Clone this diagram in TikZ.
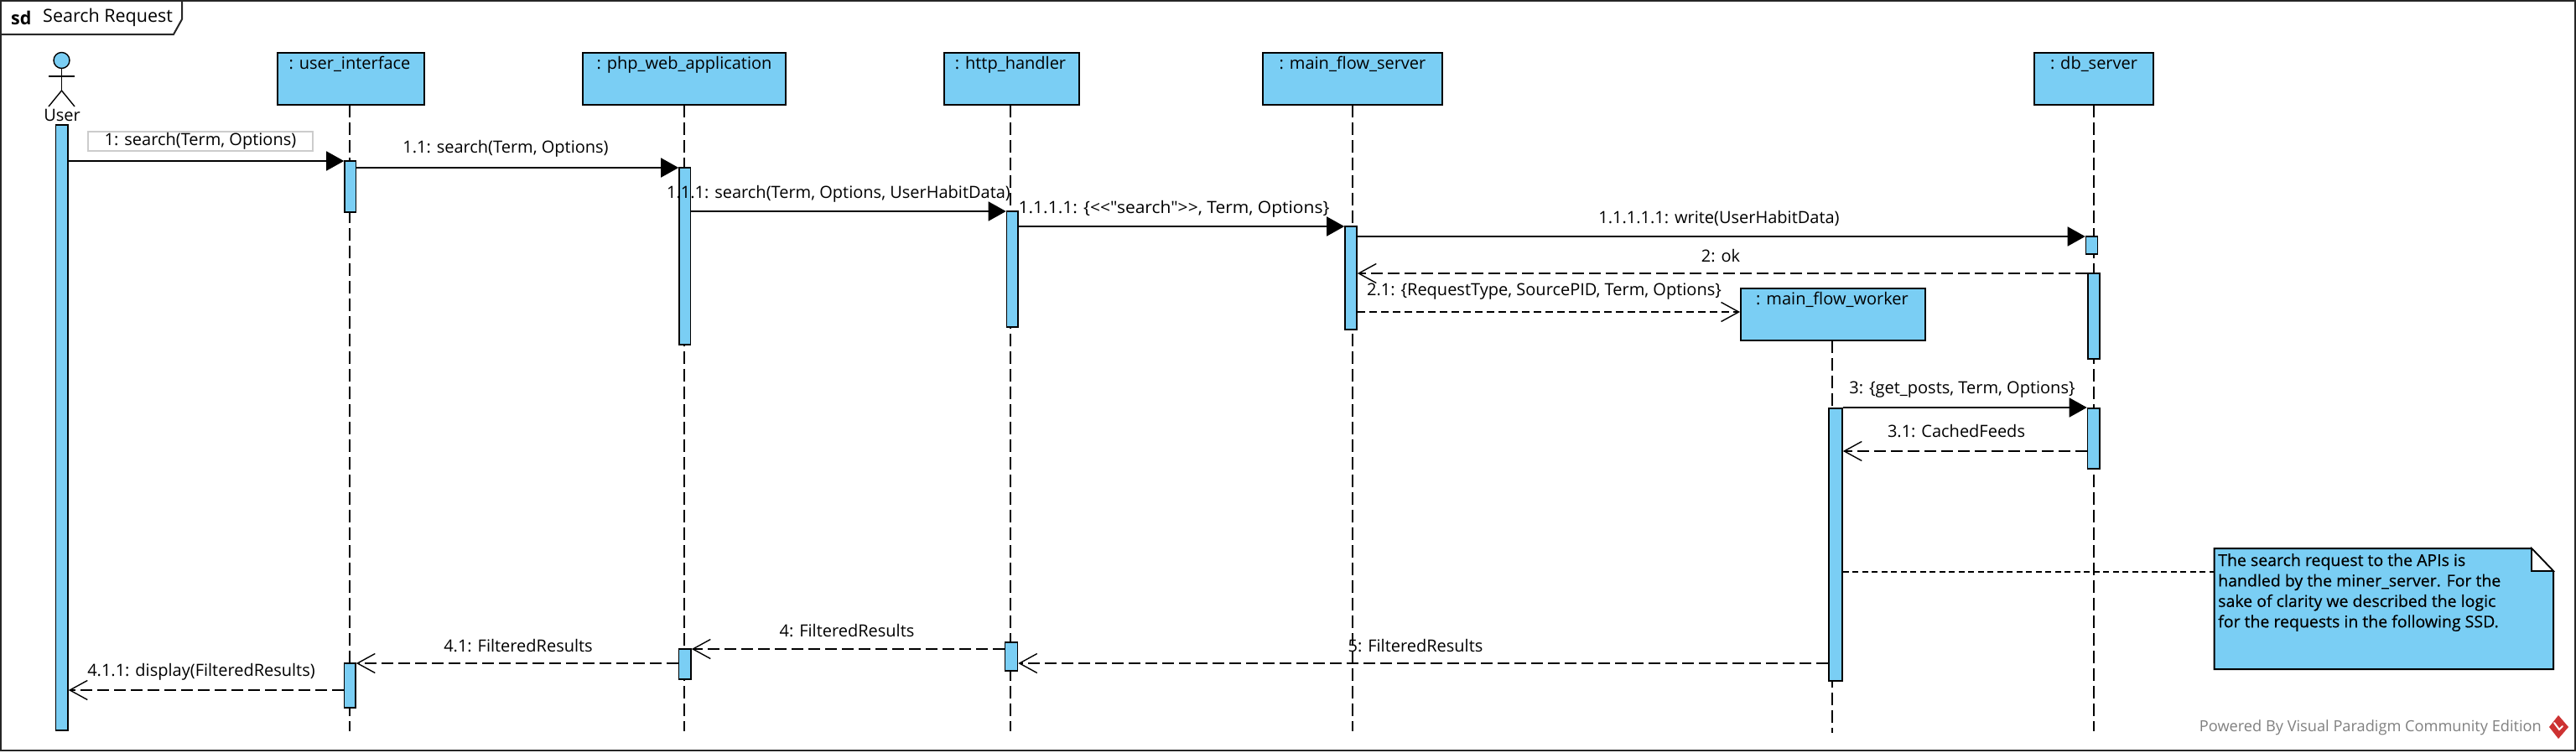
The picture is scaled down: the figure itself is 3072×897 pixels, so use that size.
\documentclass[tikz,border=0pt]{standalone}
\usepackage{fontspec}
\setmainfont{Open Sans}
\newfontfamily\msgfont{Open Sans}
\newfontfamily\notefont[FakeBold=0.4]{Open Sans}
\usetikzlibrary{arrows.meta}
\definecolor{vpblue}{RGB}{122,206,244}
\definecolor{vpred}{RGB}{205,50,50}
\tikzset{
  x=1pt,y=-1pt,
  base/.style={font=\msgfont\fontsize{20}{24}\selectfont,inner sep=0pt},
  msglabel/.style={base,text=black},
  lifebox/.style={draw=black,fill=vpblue,line width=2pt,inner sep=0pt,minimum height=62pt},
  boxtext/.style={base,anchor=north,yshift=-5pt,text height=14pt,text depth=5pt},
  lifeline/.style={draw=black,line width=1.4pt,dash pattern=on 15pt off 6pt},
  actbar/.style={draw=black,fill=vpblue,line width=1.6pt,inner sep=0pt},
  syncmsg/.style={draw=black,line width=1.8pt,-{Triangle[length=21pt,width=23pt]}},
  replymsg/.style={draw=black,line width=1.8pt,dash pattern=on 14pt off 6pt,-{Straight Barb[length=21pt,width=23pt,line width=1.4pt]}},
  createmsg/.style={draw=black,line width=1.8pt,dash pattern=on 9pt off 5pt,-{Straight Barb[length=21pt,width=23pt,line width=1.4pt]}},
  notelink/.style={draw=black,line width=1.4pt,dash pattern=on 7pt off 4.5pt},
}
\newcommand{\actvbar}[5]{\node[actbar,minimum width={(#4-#2)*1pt},minimum height={(#5-#3)*1pt}] (#1) at ({(#2+#4)/2},{(#3+#5)/2}) {};}
% name, left, right, lifeline x, top, text, lifeline end
\newcommand{\lifeobj}[7]{\node[lifebox,minimum width={(#3-#2)*1pt}] (#1) at ({(#2+#3)/2},{#5+31}) {};
  \node[boxtext] (#1t) at (#4,#5) {#6};
  \coordinate (#1s) at (#4,{#5+62});
  \coordinate (#1e) at (#4,#7);}
\begin{document}
\begin{tikzpicture}
\useasboundingbox (0,0) rectangle (3072,897);
\fill[white] (0,0) rectangle (3072,897);
% frame
\draw[line width=2pt,black!85] (1,1) rectangle (3071,895);
\draw[line width=2pt,black!85] (1,41) -- (207,41) -- (217,23) -- (217,1);
\node[base,font=\msgfont\fontsize{21.5}{24}\selectfont\bfseries,anchor=west] (sdkw) at (13,21) {sd};
\node[base,font=\msgfont\fontsize{21.5}{24}\selectfont,anchor=west] (sdname) at (51,21) {Search Request};
% actor
\node[draw=black,fill=vpblue,circle,line width=1.4pt,minimum size=19pt,inner sep=0pt] (actorhead) at (73.5,72) {};
\draw[black,line width=1.4pt] (actorhead.south) -- (73.5,108) coordinate (hip);
\draw[black,line width=1.4pt] (58,91) -- (89,91);
\draw[black,line width=1.4pt] (58,127) -- (hip) -- (89,127);
\node[msglabel] (userlbl) at (74,137) {User};
% lifelines
\lifeobj{ui}{331}{506}{417}{63}{: user\_interface}{872}
\lifeobj{php}{695}{937}{816}{63}{: php\_web\_application}{872}
\lifeobj{http}{1125.5}{1287}{1205}{63}{: http\_handler}{872}
\lifeobj{mfs}{1506}{1720}{1613}{63}{: main\_flow\_server}{872}
\lifeobj{db}{2426}{2568}{2497}{63}{: db\_server}{872}
\lifeobj{wk}{2076}{2296}{2185}{344}{: main\_flow\_worker}{874}
\draw[lifeline] (uis) -- (uie);
\draw[lifeline] (phps) -- (phpe);
\draw[lifeline] (https) -- (httpe);
\draw[lifeline] (mfss) -- (mfse);
\draw[lifeline] (dbs) -- (dbe);
\draw[lifeline] (wks) -- (wke);
% activations
\actvbar{au}{66.5}{149}{81}{871}
\actvbar{aui}{411}{192}{424.5}{253}
\actvbar{auib}{410.5}{791}{424}{844}
\actvbar{aph}{810}{200}{823.5}{411}
\actvbar{aphb}{809.5}{774}{824}{810}
\actvbar{aht}{1200.5}{252}{1214}{390}
\actvbar{ahtb}{1198.5}{766}{1213.5}{800}
\actvbar{amf}{1604}{270}{1618}{393}
\actvbar{adba}{2487.5}{282}{2501.5}{303}
\actvbar{adbb}{2490}{326}{2504}{428}
\actvbar{adbc}{2489.5}{487}{2504}{559}
\actvbar{awk}{2181}{487}{2197}{812}
% messages
\draw[syncmsg] (au.east |- 0,192) -- (aui.west |- 0,192);
\draw[syncmsg] (aui.east |- 0,200) -- (aph.west |- 0,200);
\draw[syncmsg] (aph.east |- 0,252) -- (aht.west |- 0,252);
\draw[syncmsg] (aht.east |- 0,270) -- (amf.west |- 0,270);
\draw[syncmsg] (amf.east |- 0,282) -- (adba.west |- 0,282);
\draw[replymsg] (adbb.west |- 0,326) -- (amf.east |- 0,326);
\draw[createmsg] (amf.east |- 0,372) -- (wk.west |- 0,372);
\draw[syncmsg] (awk.east |- 0,486) -- (adbc.west |- 0,486);
\draw[replymsg] (adbc.west |- 0,538) -- (awk.east |- 0,538);
\draw[replymsg] (awk.west |- 0,791) -- (ahtb.east |- 0,791);
\draw[replymsg] (ahtb.west |- 0,774) -- (aphb.east |- 0,774);
\draw[replymsg] (aphb.west |- 0,791) -- (auib.east |- 0,791);
\draw[replymsg] (auib.west |- 0,823) -- (au.east |- 0,823);
% labels
\node[draw=black!20,fill=white,line width=1.5pt,minimum width=268pt,minimum height=23pt,base] (l1) at (239,168.5) {1: search(Term, Options)};
\node[msglabel] (l11) at (603,177) {1.1: search(Term, Options)};
\node[msglabel] (l111) at (1000,231) {1.1.1: search(Term, Options, UserHabitData)};
\node[msglabel] (l1111) at (1400,249) {\scalebox{1.05}[1]{1.1.1.1: \{<<"search">>, Term, Options\}}};
\node[msglabel] (l11111) at (2050,260) {1.1.1.1.1: write(UserHabitData)};
\node[msglabel] (l2) at (2052,305) {2: ok};
\node[msglabel] (l21) at (1841.5,348) {2.1: \{RequestType, SourcePID, Term, Options\}};
\node[msglabel] (l3) at (2340,465) {3: \{get\_posts, Term, Options\}};
\node[msglabel] (l31) at (2333,514) {3.1: CachedFeeds};
\node[msglabel] (l5) at (1688,770) {5: FilteredResults};
\node[msglabel] (l4) at (1010,752) {4: FilteredResults};
\node[msglabel] (l41) at (618,770) {4.1: FilteredResults};
\node[msglabel] (l411) at (240,801) {4.1.1: display(FilteredResults)};
% note
\coordinate (noteanchor) at (2640.5,682);
\draw[notelink] (awk.east |- noteanchor) -- (noteanchor);
\draw[black,fill=vpblue,line width=2pt] (2640.5,654) -- (3019,654) -- (3045,681) -- (3045,798) -- (2640.5,798) -- cycle;
\draw[black,fill=white,line width=1.6pt] (3019,654) -- (3045,681) -- (3019,681) -- cycle;
\node[base,anchor=north west,align=left,font=\notefont\fontsize{19.5}{24.4}\selectfont] (notetext) at (2645,660) {The search request to the APIs is\\handled by the miner\_server. For the\\sake of clarity we described the logic\\for the requests in the following SSD.};
% footer
\node[base,anchor=east,text=black!50,font=\msgfont\fontsize{18.2}{20}\selectfont] (powered) at (3031,868) {Powered By Visual Paradigm Community Edition};
\fill[vpred] (3051,853) -- (3063,867) -- (3051,881) -- (3040,867) -- cycle;
\draw[white,line width=2pt,line cap=round] (3046,862) -- (3052,870) -- (3056,866);
\end{tikzpicture}
\end{document}
